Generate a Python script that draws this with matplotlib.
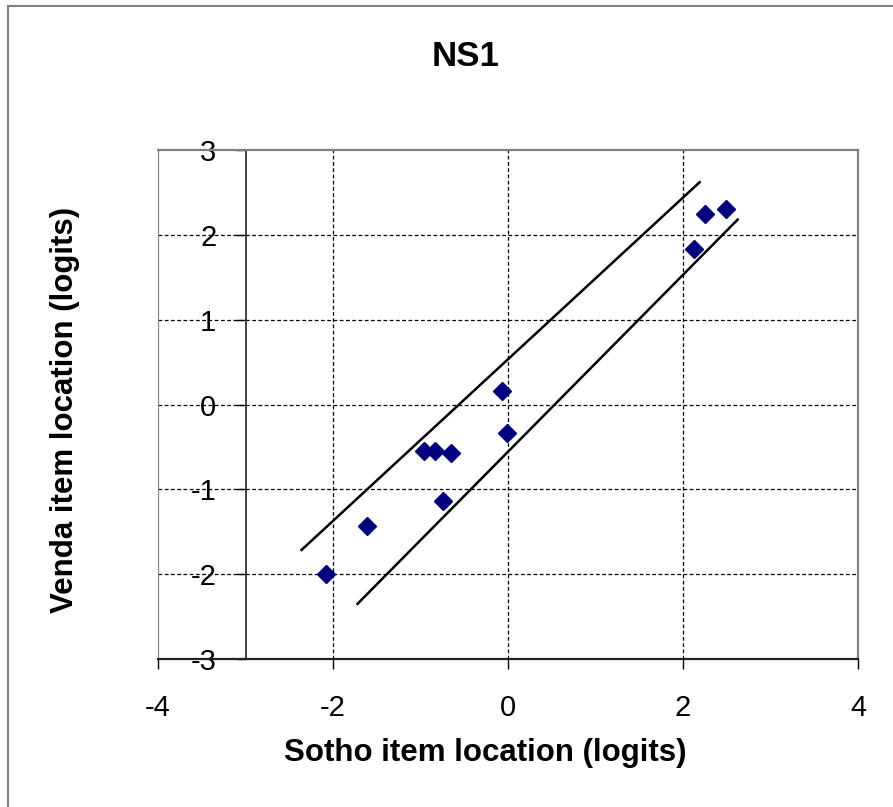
import matplotlib.pyplot as plt
from matplotlib.lines import Line2D

plt.rcParams['font.family'] = ['Liberation Sans', 'DejaVu Sans']
plt.rcParams['axes.unicode_minus'] = False

# item locations (logits)
sotho = [-2.08, -1.61, -0.96, -0.83, -0.655, -0.74, -0.065, -0.01, 2.13, 2.255, 2.49]
venda = [-2.00, -1.43, -0.545, -0.545, -0.57, -1.14, 0.16, -0.34, 1.83, 2.25, 2.30]

# the two control lines (end points)
upper_x = [-2.36, 2.19]
upper_y = [-1.715, 2.62]
lower_x = [-1.72, 2.625]
lower_y = [-2.35, 2.18]

xticks = [-4, -2, 0, 2, 4]
yticks = [-3, -2, -1, 0, 1, 2, 3]

fig = plt.figure(figsize=(8.93, 8.07), dpi=100)
ax = fig.add_axes([158 / 893, 1 - 659 / 807, 700 / 893, 509 / 807])

ax.set_xlim(-4, 4)
ax.set_ylim(-3, 3)

# dashed grid
for gx in [-2, 0, 2]:
    ax.axvline(gx, color='black', lw=0.9, ls=(0, (3, 2)), zorder=1)
for gy in [-2, -1, 0, 1, 2]:
    ax.axhline(gy, color='black', lw=0.9, ls=(0, (3, 2)), zorder=1)

# grey plot-area frame
ax.spines['top'].set_color('#808080')
ax.spines['top'].set_linewidth(1.6)
ax.spines['right'].set_color('#808080')
ax.spines['right'].set_linewidth(1.6)
ax.axvline(-4, color='#808080', lw=1.6, zorder=1)

# value axis crosses at x = -3
ax.spines['left'].set_position(('data', -3))
ax.spines['left'].set_color('#333333')
ax.spines['left'].set_linewidth(1.3)
ax.spines['bottom'].set_color('#222222')
ax.spines['bottom'].set_linewidth(1.6)

ax.plot(upper_x, upper_y, color='black', lw=1.8, zorder=2)
ax.plot(lower_x, lower_y, color='black', lw=1.8, zorder=2)
ax.plot(sotho, venda, ls='none', marker='D', ms=9.5, color='#000080', zorder=3)

ax.set_xticks(xticks)
ax.set_yticks(yticks)
ax.set_xticklabels([str(t) for t in xticks])
ax.set_yticklabels([str(t) for t in yticks])
ax.tick_params(axis='x', direction='out', length=7, width=1, pad=18, labelsize=21)
ax.tick_params(axis='y', direction='out', length=7, width=1, pad=14, labelsize=21)

ax.set_xlabel('Sotho item location (logits)', fontsize=22.5, fontweight='bold')
ax.set_ylabel('Venda item location (logits)', fontsize=22.5, fontweight='bold')
ax.xaxis.set_label_coords(0.467, -0.155)
ax.yaxis.set_label_coords(-0.111, 0.49)

fig.text(466 / 893, 1 - 56 / 807, 'NS1', ha='center', va='center', fontsize=25, fontweight='bold')

# outer chart border (left and top only visible)
fig.add_artist(Line2D([8 / 893, 8 / 893], [0, 1 - 6 / 807], color='#808080', lw=1.5))
fig.add_artist(Line2D([8 / 893, 1], [1 - 6 / 807, 1 - 6 / 807], color='#808080', lw=1.5))

fig.savefig('out.png', dpi=100)
